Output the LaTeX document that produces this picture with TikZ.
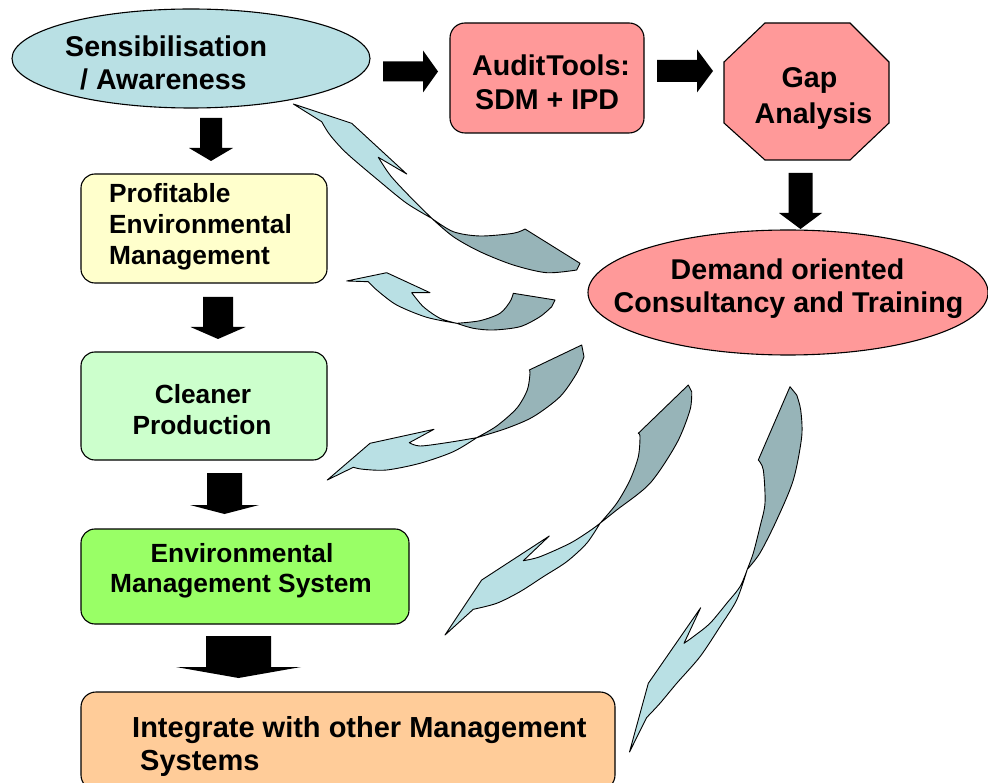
\documentclass[tikz,border=0pt]{standalone}
\usepackage{fontspec}
\setmainfont{Liberation Sans}
\usetikzlibrary{shapes.geometric}
\definecolor{sensblue}{HTML}{B9E0E4}
\definecolor{ribdark}{HTML}{97B4B8}
\definecolor{pinkbox}{HTML}{FF9999}
\definecolor{yelbox}{HTML}{FFFFCC}
\definecolor{lgreen}{HTML}{CCFFCC}
\definecolor{emsgreen}{HTML}{99FF66}
\definecolor{peach}{HTML}{FFCC99}
\newcommand{\myvarrow}[6]{\fill[blockarrow] ({#1-#5},#2) -- ({#1+#5},#2) -- ({#1+#5},#3) -- ({#1+#6},#3) -- (#1,#4) -- ({#1-#6},#3) -- ({#1-#5},#3) -- cycle;}
\newcommand{\myharrow}[6]{\fill[blockarrow] (#2,{#1-#5}) -- (#3,{#1-#5}) -- (#3,{#1-#6}) -- (#4,#1) -- (#3,{#1+#6}) -- (#3,{#1+#5}) -- (#2,{#1+#5}) -- cycle;}
\begin{document}
\begin{tikzpicture}[x=1pt,y=-1pt,
  blockarrow/.style={fill=black},
  shapeline/.style={draw=black,line width=1.1pt},
  rbox/.style={shapeline,rectangle,rounded corners=14pt,inner sep=0pt},
  oval/.style={shapeline,ellipse,inner sep=0pt},
  ribL/.style={fill=sensblue,draw=black,line width=0.9pt,line join=round},
  ribD/.style={fill=ribdark,draw=black,line width=0.9pt,line join=round},
  bigtxt/.style={inner sep=0pt,font=\bfseries\fontsize{28.6}{33}\selectfont},
  lefttxt/.style={inner sep=0pt,font=\bfseries\fontsize{26.3}{31}\selectfont},
  bottxt/.style={inner sep=0pt,font=\bfseries\fontsize{29}{33}\selectfont}]
\useasboundingbox (0,0) rectangle (988,783);
\clip (0,0) rectangle (988,783);

% ---- shapes ----
\node[oval,fill=sensblue,minimum width=358pt,minimum height=99pt] (sens) at (191,58.5) {};
\node[rbox,fill=pinkbox,rounded corners=15pt,minimum width=194pt,minimum height=110pt] (audit) at (547,78) {};
\draw[shapeline,fill=pinkbox] (765,23) -- (850,23) -- (889,62) -- (889,123) -- (850,160) -- (765,160) -- (724,123) -- (724,62) -- cycle;
\coordinate (gap) at (806.5,91.5);
\node[oval,fill=pinkbox,minimum width=400pt,minimum height=125pt] (demand) at (788,292.5) {};
\node[rbox,fill=yelbox,minimum width=246pt,minimum height=109pt] (prof) at (204,228.5) {};
\node[rbox,fill=lgreen,minimum width=246pt,minimum height=108pt] (clean) at (204,406) {};
\node[rbox,fill=emsgreen,minimum width=328pt,minimum height=95pt] (ems) at (245,576.5) {};
\node[rbox,fill=peach,rounded corners=15pt,minimum width=534pt,minimum height=98pt] (integ) at (348,741) {};

% ---- block arrows ----
\myharrow{71.5}{383}{423}{438}{10}{21}
\myharrow{71}{657}{697}{713}{11}{21.5}
\myvarrow{800.5}{173}{213}{229}{12}{21.5}
\myvarrow{211}{118}{148}{161}{11}{22}
\myvarrow{218}{297}{327}{339}{15}{27.5}
\myvarrow{224.5}{473}{505}{514}{17.5}{34.5}
\myvarrow{238.5}{636}{667}{678}{32.5}{62.5}

% ---- curved ribbon arrows ----
% A: to Sensibilisation
\draw[ribD] (431.7,218.3) -- plot[smooth] coordinates {(431.7,218.3) (453.3,231.7) (480,236) (513.3,233.3) (525,229)} -- (580,263.3) -- (576.7,270) -- plot[smooth] coordinates {(576.7,270) (546.7,272.7) (513.3,265) (480,251.7) (453.3,236.7) (431.7,218.3)} -- cycle;
\draw[ribL] (293.3,104) -- (351.7,123.3) -- (406.7,174) -- plot[smooth] coordinates {(378.3,157.3) (390,175) (406.7,193.3) (431.7,218.3)} -- plot[smooth] coordinates {(431.7,218.3) (406.7,203.3) (380,181.7) (346.7,153.3) (330,135) (321.7,121.7)} -- cycle;
% B: to Profitable
\draw[ribD] (456.7,323.3) -- plot[smooth] coordinates {(456.7,323.3) (480,320.7) (500,313.3) (510,301.7) (513.3,293.3)} -- (555,300) -- (551.7,306.7) -- plot[smooth] coordinates {(551.7,306.7) (540,316.7) (520,326.7) (493.3,330) (473.3,328.3) (456.7,323.3)} -- cycle;
\draw[ribL] (346.7,281) -- (386.7,272.7) -- (430,292.7) -- plot[smooth] coordinates {(411.7,292.7) (423.3,306.7) (440,318.3) (456.7,323.3)} -- plot[smooth] coordinates {(456.7,323.3) (426.7,317.3) (396.7,305) (376.7,290) (368.3,281.7)} -- cycle;
% C: to Cleaner Production
\draw[ribD] (476.7,437.7) -- plot[smooth] coordinates {(476.7,437.7) (496.7,426) (516.7,408.3) (527.3,390) (530,373.3) (529.3,370)} -- (581.7,345) -- (584,356.7) -- plot[smooth] coordinates {(584,356.7) (576.7,373.3) (560,396.7) (533.3,416.7) (506.7,428.3) (476.7,437.7)} -- cycle;
\draw[ribL] (327.3,480) -- (370,443.3) -- (434,429.3) -- plot[smooth] coordinates {(409.3,442.7) (420,446) (446.7,442.7) (476.7,437.7)} -- plot[smooth] coordinates {(476.7,437.7) (453.3,451.7) (420,463.3) (386.7,470) (363.3,469.3) (353.3,467.3)} -- cycle;
% D: to EMS
\draw[ribD] (600,523.3) -- plot[smooth] coordinates {(600,523.3) (616.7,503.3) (630,480) (638.3,456.7) (640,436.7) (638.3,433.3)} -- (688.3,385) -- (691.7,391.7) -- plot[smooth] coordinates {(691.7,391.7) (690,410) (676.7,443.3) (650,483.3) (616.7,510) (600,523.3)} -- cycle;
\draw[ribL] (445,635) -- (481.7,580) -- (549.3,536) -- plot[smooth] coordinates {(523.3,560.7) (540,556.7) (570,543.3) (590,530.7) (600,523.3)} -- plot[smooth] coordinates {(600,523.3) (586.7,543.3) (566.7,561.7) (543.3,576.7) (520,591.7) (496.7,603.3) (473.3,609.3)} -- cycle;
% E: to Integrate
\draw[ribD] (747.3,569.3) -- plot[smooth] coordinates {(747.3,569.3) (753.3,553) (760,526.7) (765,503) (763.3,470) (758.3,460)} -- (790,386.7) -- (796.7,395) -- plot[smooth] coordinates {(796.7,395) (800.7,410) (801.7,436.7) (793.3,480) (776.7,520) (760,553) (747.3,569.3)} -- cycle;
\draw[ribL] (629.5,752) -- (648.3,683.3) -- (700.7,607.7) -- plot[smooth] coordinates {(684,643.3) (693.3,636.7) (710,623.3) (726.7,603.3) (740,586.7) (747.3,569.3)} -- plot[smooth] coordinates {(747.3,569.3) (736.7,600) (720,626.7) (700,656.7) (676.7,683.3) (660,703.3) (646.7,717.5)} -- cycle;

% ---- texts ----
\node[bigtxt,anchor=base west] (t1) at (65,57) {Sensibilisation};
\node[bigtxt,anchor=base west] (t2) at (80,90) {/ Awareness};
\node[bigtxt,anchor=base west] (t3) at (472,76) {Audit\kern1pt Tools:};
\node[bigtxt,anchor=base west] (t4) at (475,110) {SDM + IPD};
\node[bigtxt,anchor=base] (t5) at (809.5,88) {Gap};
\node[bigtxt,anchor=base] (t6) at (813.5,124) {Analysis};
\node[bigtxt,anchor=base] (t7) at (787.5,280) {Demand oriented};
\node[bigtxt,anchor=base] (t8) at (788.5,313) {Consultancy and Training};
\node[lefttxt,anchor=base west] (t9) at (109,203) {Profitable};
\node[lefttxt,anchor=base west] (t10) at (109,234) {Environmental};
\node[lefttxt,anchor=base west] (t11) at (109,265) {Management};
\node[lefttxt,anchor=base] (t12) at (203,403) {Cleaner};
\node[lefttxt,anchor=base] (t13) at (202,435) {Production};
\node[lefttxt,anchor=base] (t14) at (242,562) {Environmental};
\node[lefttxt,anchor=base] (t15) at (241,592) {Management System};
\node[bottxt,anchor=base west] (t16) at (132,737) {Integrate with other Management};
\node[bottxt,anchor=base west] (t17) at (140,770) {Systems};
\end{tikzpicture}
\end{document}
